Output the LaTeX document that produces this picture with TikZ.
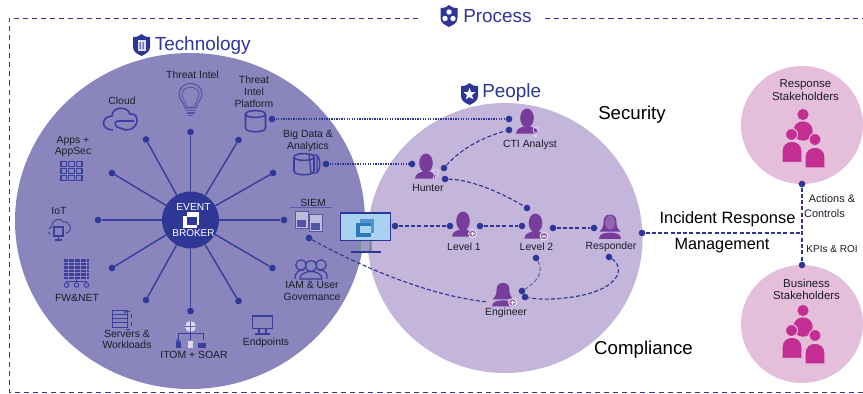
\documentclass[tikz,border=0pt]{standalone}
\usepackage{fontspec}
\setmainfont{Liberation Sans}
\usetikzlibrary{calc}
\definecolor{tech}{HTML}{8A85BD}
\definecolor{peop}{HTML}{C4B5DB}
\definecolor{pinkc}{HTML}{E5BEDB}
\definecolor{navy}{HTML}{2E3796}
\definecolor{purp}{HTML}{773C9C}
\definecolor{mag}{HTML}{C32E93}
\definecolor{ink}{HTML}{1C1C2A}
\definecolor{iconb}{HTML}{3A3F9C}
\definecolor{scrn}{HTML}{A9D2F2}
\definecolor{scrq}{HTML}{2E78BE}
\tikzset{
  dot/.style={circle,fill=navy,draw=none,minimum size=5pt,inner sep=0pt},
  spoke/.style={draw=navy!90!tech,line width=1.1pt},
  dashlink/.style={draw=navy,line width=0.85pt,dash pattern=on 3pt off 1.7pt},
  dotlink/.style={draw=navy,line width=0.9pt,dash pattern=on 1pt off 0.9pt},
  frameline/.style={draw=navy,line width=0.7pt,dash pattern=on 3.8pt off 3pt},
  lab/.style={text=ink,font=\fontsize{7.8}{8.7}\selectfont,align=center,inner sep=0pt,yshift=-0.8pt},
  smalltxt/.style={text=ink,align=center,inner sep=0pt},
  headtxt/.style={text=navy,font=\fontsize{14.2}{16}\selectfont,inner sep=0pt},
  bigtxt/.style={text=black,font=\fontsize{14}{16}\selectfont,inner sep=0pt},
  ic/.style={draw=iconb,line width=0.8pt,fill=none},
  shield/.pic={\fill[navy] (-8.5,-8) .. controls (-4,-8) and (-2,-9) .. (0,-11) .. controls (2,-9) and (4,-8) .. (8.5,-8) -- (8.5,2) .. controls (8.5,7) and (4,9) .. (0,11) .. controls (-4,9) and (-8.5,7) .. (-8.5,2) -- cycle;},
  agent/.pic={
    \fill[purp] (0,0) ellipse (6.8 and 9.5);
    \fill[purp] (-11,15.5) .. controls (-11,10) and (-5,9.5) .. (-2,8) -- (2,8) .. controls (5,9.5) and (11,10) .. (11,15.5) -- cycle;},
  woman/.pic={
    \fill[purp] (0,-11) .. controls (6,-11) and (6.5,-6) .. (6.5,-2) .. controls (6.5,3) and (9,5) .. (10.5,7) -- (-10.5,7) .. controls (-9,5) and (-6.5,3) .. (-6.5,-2) .. controls (-6.5,-6) and (-6,-11) .. (0,-11) -- cycle;
    \fill[purp] (-11,14.5) .. controls (-11,9) and (-5,8) .. (0,8) .. controls (5,8) and (11,9) .. (11,14.5) -- cycle;},
  badge/.pic={\fill[white,opacity=.9] (0,0) circle (4.4);\fill[purp!70!white] (0,0) circle (3.5);},
  cert/.pic={\draw[white!80!purp,line width=.5pt] (0,0) circle (3);\draw[white!80!purp,line width=.5pt] (-1.5,2.5) -- (-3,7) (1,2.5) -- (0,7) (-1,7) -- (0,4);},
  crowd/.pic={
    \fill[mag] (1,-10.5) circle (5.6);
    \fill[mag] (1,6) circle (9.7);
    \draw[pinkc,line width=.8pt,fill=mag] (-10.5,9.5) circle (6);
    \draw[pinkc,line width=.8pt,fill=mag] (-20,37.5) -- (-20,26) .. controls (-20,13) and (0,13) .. (0,26) -- (0,37.5) -- cycle;
    \draw[pinkc,line width=.8pt,fill=mag] (13,14.5) circle (6);
    \draw[pinkc,line width=.8pt,fill=mag] (3,43) -- (3,32) .. controls (3,19) and (23,19) .. (23,32) -- (23,43) -- cycle;},
  cyl/.pic={\draw[ic,line width=1.15pt] (-10,-7) -- (-10,7) .. controls (-10,12) and (10,12) .. (10,7) -- (10,-7) (-10,-7) .. controls (-10,-11.5) and (10,-11.5) .. (10,-7) .. controls (10,-2.5) and (-10,-2.5) .. (-10,-7);}
}
\begin{document}
\begin{tikzpicture}[x=0.75pt,y=-0.75pt]
\useasboundingbox (0,0) rectangle (863,393);
\fill[white] (0,0) rectangle (863,393);
% frame
\coordinate (fa) at (418,18); \coordinate (fb) at (9,18); \coordinate (fc) at (9,392); \coordinate (fd) at (863,392);
\coordinate (fe) at (545,18); \coordinate (ff) at (863,18);
\draw[frameline] (fa) -- (fb) -- (fc) -- (fd);
\draw[frameline] (fe) -- (ff);
% big circles
\fill[peop] (505,238) ellipse (137.5 and 135);
\fill[tech] (190,221) ellipse (175 and 168);
\fill[pinkc] (802,125) ellipse (61 and 59);
\fill[pinkc] (802,324) ellipse (61 and 59);
% headers
\pic at (449,16) {shield};
\fill[white] (449,12) circle (2.7) (445,18.5) circle (2.7) (453,18.5) circle (2.7);
\node[headtxt,anchor=west] (proc) at (463,16) {Process};
\pic at (141.5,45) {shield};
\fill[white!85!navy] (137.5,40) rectangle (145.5,50.5);
\fill[navy] (139.5,42) rectangle (140.5,49) (142.5,42) rectangle (143.5,49);
\node[headtxt,anchor=west] (techh) at (154.5,46) {Technology};
\pic at (469.5,94) {shield};
\fill[white] (469.5,88) -- (471,92) -- (475.5,92.2) -- (472,95) -- (473.2,99.3) -- (469.5,97) -- (465.8,99.3) -- (467,95) -- (463.5,92.2) -- (468,92) -- cycle;
\node[headtxt,anchor=west] (peoh) at (482,93) {People};
% hub and spokes
\node[circle,fill=navy,minimum size=42.75pt,inner sep=0pt] (hub) at (190.5,220) {};
\foreach \n/\x/\y in {sa/190.5/132,sb/238.5/140,sc/146/139.5,sd/112/173,se/273/173,sf/98/220,sg/284/220,sh/112/268,si/272.5/268,sj/146/300,sk/190.5/311,sl/238.5/301}{
  \node[dot] (\n) at (\x,\y) {};
  \draw[spoke] (hub) -- (\n);
}
\node[text=white,font=\fontsize{7.7}{8}\selectfont,inner sep=0pt] (ev) at (193.5,207) {EVENT};
\node[text=white,font=\fontsize{7.5}{8}\selectfont,inner sep=0pt] (br) at (193.5,233) {BROKER};
\fill[white] (183.3,215.7) rectangle (196.7,227.7);
\fill[white] (186.7,212.3) rectangle (199.3,225);
\fill[navy] (187.3,216.7) rectangle (196.7,225);
% tech labels
\node[lab] at (192.5,74) {Threat Intel};
\node[lab,align=center] at (254,90.5) {Threat\\[0.6pt]Intel\\Platform};
\node[lab] at (122,100) {Cloud};
\node[lab] at (73,145.5) {Apps +\\AppSec};
\node[lab] at (308,140) {Big Data \&\\Analytics};
\node[lab] at (313,202) {SIEM};
\node[lab] at (59,210) {IoT};
\node[lab] at (312,290) {IAM \& User\\Governance};
\node[lab] at (77,297) {FW\&NET};
\node[lab] at (127,338.5) {Servers \&\\Workloads};
\node[lab] at (194,354) {ITOM + SOAR};
\node[lab] at (266,342) {Endpoints};
% bulb
\draw[iconb!70!tech,line width=.8pt] (185,108) .. controls (184,102) and (179,100) .. (179,94) .. controls (179,80) and (202,80) .. (202,94) .. controls (202,100) and (197,102) .. (196,108) -- cycle;
\draw[iconb!70!tech,line width=.6pt] (182,94) .. controls (182,85) and (199,85) .. (199,94) .. controls (199,99) and (195,102) .. (194,107) -- (187,107) .. controls (186,102) and (182,99) .. (182,94);
\draw[iconb!70!tech,line width=.9pt] (185.5,110.5) -- (195.5,110.5) (186.5,113) -- (194.5,113) (188,115.5) -- (193,115.5);
% cloud
\draw[ic,line width=1.2pt] (113,130) .. controls (101,130) and (100,117) .. (112,116) .. controls (112,106) and (128,106) .. (130,114) .. controls (140,112) and (140,130) .. (126,130) -- (117,127) .. controls (113,124) and (116,120) .. (120,121) -- (134,121);
% apps grid
\foreach \i in {0,1,2}\foreach \j in {0,1,2}{\draw[ic,line width=.85pt] ({61+\i*7.6},{161.5+\j*6.9}) rectangle ++(5.8,5.2);}
% IoT
\draw[ic,line width=.7pt] (52,226) .. controls (52,218) and (62,218) .. (63,222) .. controls (70,220) and (74,232) .. (66,233);
\draw[ic,line width=.7pt,dashed] (52,226) -- (47,231) -- (52,236);
\draw[ic] (54,227) rectangle (63,236);
\draw[ic] (58.5,236) -- (58.5,240) (55,240) -- (62,240);
% firewall
\fill[iconb] (64,259) rectangle (89,279);
\foreach \y in {262,265.5,269,272.5,276}{\draw[tech,line width=.35pt] (64,\y) -- (89,\y);}
\foreach \x in {68,74,80,86}{\draw[tech,line width=.35pt] (\x,259) -- (\x,279);}
\draw[ic,line width=.7pt] (76.5,279) -- (76.5,282) (66.5,282.5) -- (66.5,281) -- (86.5,281) -- (86.5,282.5);
\foreach \x in {66.5,76.5,86.5}{\draw[ic,line width=.7pt] (\x,285) circle (2.3);}
% servers
\draw[ic,line width=.6pt,dashed] (126,311) -- (131,311) -- (131,329) -- (125,329);
\draw[ic,line width=.7pt] (112.5,310) rectangle (127,327);
\foreach \y in {314,318,322}{\draw[ic,line width=.6pt] (112.5,\y) -- (127,\y);}
\fill[iconb!70!tech] (124,311) rectangle (126,313);
% ITOM
\fill[white!70!tech] (190.5,326.5) circle (5.5);
\draw[iconb!50!tech,line width=.4pt] (185,326.5) -- (196,326.5) (190.5,321) -- (190.5,332);
\draw[ic,line width=.6pt] (178,340) -- (178,333.5) -- (203,333.5) -- (203,340) (190.5,332) -- (190.5,340);
\fill[iconb] (175.5,341.5) rectangle (181,348);
\draw[iconb,line width=.6pt] (178,341) circle (1.5);
\fill[white!70!tech] (187.5,340.5) rectangle (193,348);
\fill[iconb] (197.5,343) rectangle (206,348);
% endpoints
\draw[ic,line width=.9pt] (252.5,316) rectangle (272.5,328.5);
\draw[ic,line width=.8pt] (259,328.5) -- (259,334) (266,328.5) -- (266,334) (255,334) -- (270,334);
% cylinders
\pic at (255.5,121) {cyl};
\draw[ic,line width=1pt] (312,155) -- (316,155) .. controls (321,156) and (321,172) .. (316,173) -- (312,173) (311,155) -- (313,155) (317,155) -- (317,173);
\draw[ic,line width=1pt] (309,154) -- (311,173);
\pic at (304,164) {cyl};
% SIEM
\draw[draw=iconb!60!tech,line width=.4pt] (290,207.5) -- (332,207.5);
\fill[white!45!tech] (295,211) rectangle (308,228);
\draw[iconb!65!tech,line width=.7pt] (295,211) rectangle (308,228);
\fill[iconb!70!tech] (297,220) rectangle (306,227);
\fill[white!45!tech] (309,214) rectangle (322,231);
\draw[iconb!65!tech,line width=.7pt] (309,214) rectangle (322,231);
\fill[iconb!70!tech] (311,223) rectangle (320,230);
% IAM
\begin{scope}[ic,line width=.9pt]
\draw (301,265) circle (5.2) (321,265) circle (5.2);
\draw (295,279) .. controls (295,271) and (300,270) .. (304,270) (327,279) -- (327,276) .. controls (327,271) and (322,270) .. (318,270);
\draw[fill=tech] (311,266) circle (5.6);
\draw[fill=tech] (300,279) .. controls (300,269) and (322,269) .. (322,279) -- cycle;
\end{scope}
% people icons
\pic at (527,118) {agent}; \pic at (536,130) {cert};
\pic at (426,163) {agent}; \pic at (436,172) {cert};
\pic at (463,221) {agent}; \pic at (472.5,233.5) {badge};
\draw[white,line width=.7pt] (470.5,233.5) -- (474.5,233.5) (472.5,231.5) -- (472.5,235.5);
\pic at (535.5,223) {agent}; \pic at (544,236) {badge};
\draw[white,line width=.7pt] (542,236) -- (546,236);
\pic[yscale=.95] at (610,225) {woman};
\fill[purp!65!peop] (610,222.5) ellipse (5 and 7);
\pic[yscale=.92] at (503,293) {woman}; \pic at (512.5,302.5) {badge};
\draw[white,line width=.7pt] (510.5,302.5) -- (514.5,302.5) (512.5,300.5) -- (512.5,304.5);
% people labels
\node[lab] at (530,144) {CTI Analyst};
\node[lab] at (428,187) {Hunter};
\node[lab] at (464,246) {Level 1};
\node[lab] at (536.5,246) {Level 2};
\node[lab] at (611,246) {Responder};
\node[lab] at (506,312) {Engineer};
% monitor
\fill[black!30!scrn] (358,241) rectangle (372,252);
\fill[tech!60!peop] (361,241) rectangle (369,251);
\draw[navy,line width=1.1pt] (350.5,252) -- (381,252);
\draw[navy,line width=1.3pt,fill=scrn] (340.5,213) rectangle (390.5,240.5);
\fill[scrq!70!scrn] (360,219) rectangle (374,233);
\fill[scrq] (356,222.5) rectangle (371,237);
\fill[scrn] (360,226) rectangle (371,233);
% link dots
\foreach \n/\x/\y in {ctia/509/119,ctib/509/130,hunl/412/164,huna/444/168,hunb/445/179,lvt/527/208,mon/395/226,lva/450/226,lvb/480/226,lvc/522/226,lvd/553/228,rsa/594/228,rsb/642/233,lve/536/258,rsc/609/257,ena/522/291,enb/525/297,siem/309/238,bigd/326/164,tip/272/119,sta/802/184,stb/802/265}{
  \node[dot] (\n) at (\x,\y) {};
}
\coordinate (jct) at (802,233);
\coordinate (engl) at (488,302);
\draw[dotlink] (tip) -- (ctia);
\draw[dotlink] (bigd) -- (hunl);
\draw[dashlink] (huna) .. controls (460,150) and (480,138) .. (ctib);
\draw[dashlink] (hunb) .. controls (475,180) and (505,195) .. (lvt);
\draw[dashlink] (mon) -- (lva);
\draw[dashlink] (lvb) -- (lvc);
\draw[dashlink] (lvd) -- (rsa);
\draw[dashlink] (rsb) -- (jct);
\draw[dashlink] (sta) -- (stb);
\draw[dashlink,draw=navy!60!peop] (lve) .. controls (543,270) and (540,280) .. (ena);
\draw[dashlink] (rsc) .. controls (626,268) and (620,292) .. (565,298) .. controls (550,300) and (535,299) .. (enb);
\draw[dashlink] (siem) .. controls (345,258) and (420,295) .. (engl);
% stakeholders
\node[lab,font=\fontsize{8.6}{9.2}\selectfont] at (805.5,89) {Response\\Stakeholders};
\node[lab,font=\fontsize{8.6}{9.2}\selectfont] at (806.5,288) {Business\\Stakeholders};
\pic at (802,125) {crowd};
\pic at (802,321) {crowd};
\node[smalltxt,font=\fontsize{8.2}{9}\selectfont] at (832,199) {Actions \&};
\node[smalltxt,font=\fontsize{8.2}{9}\selectfont] at (824.5,214) {Controls};
\node[smalltxt,font=\fontsize{7.5}{9}\selectfont] at (832,249) {KPIs \& ROI};
\node[bigtxt] at (632,115) {Security};
\node[bigtxt] at (643.5,350) {Compliance};
\node[bigtxt,font=\fontsize{12.3}{15}\selectfont] at (727.5,219) {Incident Response};
\node[bigtxt,font=\fontsize{12.2}{15}\selectfont] at (722,245.5) {Management};
\end{tikzpicture}
\end{document}
